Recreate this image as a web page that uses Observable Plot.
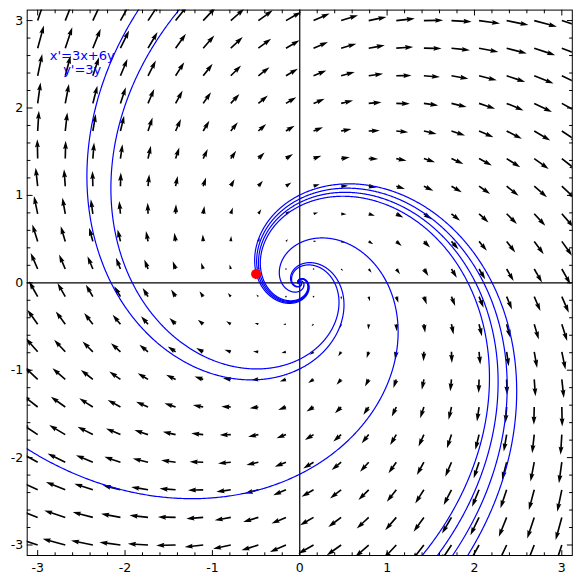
<!DOCTYPE html>
<html>
<head>
<meta charset="utf-8">
<script src="https://cdn.jsdelivr.net/npm/d3@7"></script>
<script src="https://cdn.jsdelivr.net/npm/@observablehq/plot@0.6"></script>
<style>
  html, body { margin: 0; padding: 0; background: #fff; }
  #chart svg { display: block; }
</style>
</head>
<body>
<div id="chart"></div>
<script>
// ---- data ----
// linear system whose field is drawn: x' = 3x + 6y, y' = -6x + 3y
const coefX = [3, 6];
const coefY = [-6, 3];
// 20 x 20 grid of arrow tails
const gridX = [-3, -2.6842, -2.3684, -2.0526, -1.7368, -1.4211, -1.1053, -0.7895, -0.4737, -0.1579,
               0.1579, 0.4737, 0.7895, 1.1053, 1.4211, 1.7368, 2.0526, 2.3684, 2.6842, 3];
const gridY = [-3, -2.6842, -2.3684, -2.0526, -1.7368, -1.4211, -1.1053, -0.7895, -0.4737, -0.1579,
               0.1579, 0.4737, 0.7895, 1.1053, 1.4211, 1.7368, 2.0526, 2.3684, 2.6842, 3];
// trajectory seeds (where each blue curve crosses the y axis)
const seedX = [0, 0, 0, 0, 0, 0, 0];
const seedY = [1.004, 0.960, 0.918, 0.878, -0.874, -0.985, -2.19];
// red point
const pointX = [-0.5];
const pointY = [0.1];
// label
const labelText = ["x'=3x+6y\ny'=3y"];
const labelX = [-2.49];
const labelY = [2.52];
// ticks
const majorTicks = [-3, -2, -1, 0, 1, 2, 3];
const minorTicks = [-2.8, -2.6, -2.4, -2.2, -1.8, -1.6, -1.4, -1.2, -0.8, -0.6, -0.4, -0.2,
                    0.2, 0.4, 0.6, 0.8, 1.2, 1.4, 1.6, 1.8, 2.2, 2.4, 2.6, 2.8];

// ---- build tables ----
function F(p) {
  return [coefX[0] * p[0] + coefX[1] * p[1], coefY[0] * p[0] + coefY[1] * p[1]];
}
const field = [];
for (const x of gridX) for (const y of gridY) {
  const [u, v] = F([x, y]);
  field.push({x, y, m: Math.hypot(u, v), a: Math.atan2(u, v) * 180 / Math.PI});
}

function rk4(p, h) {
  const k1 = F(p);
  const k2 = F([p[0] + h / 2 * k1[0], p[1] + h / 2 * k1[1]]);
  const k3 = F([p[0] + h / 2 * k2[0], p[1] + h / 2 * k2[1]]);
  const k4 = F([p[0] + h * k3[0], p[1] + h * k3[1]]);
  return [p[0] + h / 6 * (k1[0] + 2 * k2[0] + 2 * k3[0] + k4[0]),
          p[1] + h / 6 * (k1[1] + 2 * k2[1] + 2 * k3[1] + k4[1])];
}
function solve(seed, h) {
  const out = [];
  let p = seed;
  while (Math.abs(p[0]) < 3.4 && Math.abs(p[1]) < 3.4 && Math.hypot(p[0], p[1]) > 0.012 && out.length < 30000) {
    out.push(p);
    p = rk4(p, h);
  }
  return out;
}
const traj = [];
seedX.forEach((sx, i) => {
  const seed = [sx, seedY[i]];
  const back = solve(seed, -0.001).reverse();
  const fwd = solve(seed, 0.001).slice(1);
  for (const p of back.concat(fwd)) traj.push({id: i, x: p[0], y: p[1]});
});

// matplotlib-like quiver arrow (filled polygon), drawn pointing "up"
const SW = 1.64;
const quiverArrow = {
  draw(ctx, l) {
    const hl = 5 * SW, hal = 4.5 * SW, hw = 1.5 * SW, sw = 0.5 * SW;
    let pts;
    if (l < SW) {
      pts = d3.range(6).map(i => [sw * Math.cos(i * Math.PI / 3), sw * Math.sin(i * Math.PI / 3)]);
    } else if (l < hl) {
      const s = l / hl;
      pts = [[sw, 0], [sw, -(hl - hal)], [hw, 0], [0, -hl], [-hw, 0], [-sw, -(hl - hal)], [-sw, 0]]
        .map(([a, b]) => [a * s, b * s]);
    } else {
      pts = [[sw, 0], [sw, -(l - hal)], [hw, -(l - hl)], [0, -l], [-hw, -(l - hl)], [-sw, -(l - hal)], [-sw, 0]];
    }
    pts.forEach(([a, b], i) => i ? ctx.lineTo(a, b) : ctx.moveTo(a, b));
    ctx.closePath();
  }
};
const tickLine = {
  draw(ctx, l) { ctx.moveTo(0, 0); ctx.lineTo(0, -l); }
};
const fmt = d => `${d}`;

function ticks(values, len) {
  const o = {stroke: "black", strokeWidth: 1, anchor: "start", length: len, shape: tickLine};
  return [
    Plot.vector(values, {...o, x: d => d, frameAnchor: "bottom", rotate: 0}),
    Plot.vector(values, {...o, x: d => d, frameAnchor: "top", rotate: 180}),
    Plot.vector(values, {...o, y: d => d, frameAnchor: "left", rotate: 90}),
    Plot.vector(values, {...o, y: d => d, frameAnchor: "right", rotate: -90})
  ];
}

const chart = Plot.plot({
  width: 583,
  height: 585,
  marginLeft: 26.7,
  marginRight: 11.2,
  marginTop: 9.6,
  marginBottom: 30,
  x: {domain: [-3.12, 3.12], label: null},
  y: {domain: [-3.12, 3.12], label: null},
  length: {type: "linear", domain: [0, 1], range: [0, 0.87]},
  style: {fontFamily: "DejaVu Sans", fontSize: "12.5px", background: "white", color: "black", overflow: "visible"},
  marks: [
    Plot.ruleX([0], {stroke: "black", strokeWidth: 1.2}),
    Plot.ruleY([0], {stroke: "black", strokeWidth: 1.2}),
    Plot.vector(field, {x: "x", y: "y", length: "m", rotate: "a", anchor: "start",
      shape: quiverArrow, fill: "black", stroke: "none", strokeWidth: 0, clip: true}),
    Plot.line(traj, {x: "x", y: "y", z: "id", stroke: "#0000ff", strokeWidth: 1.2, clip: true}),
    Plot.dot(pointX.map((x, i) => ({x, y: pointY[i]})), {x: "x", y: "y", r: 5, fill: "#ff0000"}),
    Plot.text(labelText.map((t, i) => ({t, x: labelX[i], y: labelY[i]})),
      {x: "x", y: "y", text: "t", fill: "#0000ff", fontSize: 13, lineHeight: 1.1, textAnchor: "middle"}),
    Plot.frame({stroke: "black", strokeWidth: 1}),
    ...ticks(majorTicks, 5),
    ...ticks(minorTicks, 2.8),
    Plot.axisX(majorTicks, {anchor: "bottom", tickSize: 0, tickPadding: 8, tickFormat: fmt, fontSize: 12.5, label: null}),
    Plot.axisY(majorTicks, {anchor: "left", tickSize: 0, tickPadding: 4, tickFormat: fmt, fontSize: 12.5, label: null})
  ]
});
document.getElementById("chart").appendChild(chart);
</script>
</body>
</html>
